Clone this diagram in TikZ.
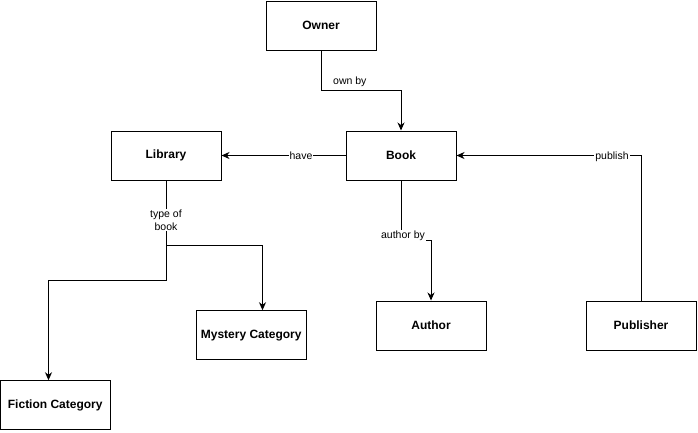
\documentclass[tikz,border=0pt]{standalone}
\usepackage{fontspec}
\setmainfont{Liberation Sans}
\usetikzlibrary{arrows.meta,calc}
\begin{document}
\begin{tikzpicture}[x=1pt,y=-1pt,
  entity/.style={draw,line width=1pt,minimum width=110pt,minimum height=49pt,inner sep=0pt,font=\fontsize{12}{14}\selectfont\bfseries},
  conn/.style={line width=1pt,-{Stealth[length=8pt,width=7pt,inset=2.5pt]}},
  plain/.style={line width=1pt},
  lbl/.style={fill=white,inner sep=1pt,font=\fontsize{10.5}{12.5}\selectfont}]
\useasboundingbox (0,0) rectangle (698,432);
\node[entity] (owner) at (321,25.5) {Owner};
\node[entity] (book) at (401,155.5) {Book};
\node[entity] (library) at (166,155.5) {Library};
\node[entity] (author) at (431,325.5) {Author};
\node[entity] (publisher) at (641,325.5) {Publisher};
\node[entity] (mystery) at (251.25,335.25) {Mystery Category};
\node[entity] (fiction) at (55.25,405.25) {Fiction Category};
% own by
\coordinate (o1) at (321,90);
\coordinate (o2) at (401,90);
\draw[conn] (owner.south) -- (o1) -- (o2) -- (book.north);
\node[lbl,anchor=west] (lown) at (332,82) {own by};
% have
\draw[conn] (book.west) -- (library.east);
\node[lbl] (lhave) at (301,156) {have};
% author by
\coordinate (a1) at (401,240);
\coordinate (a2) at (431,240);
\draw[conn] (book.south) -- (a1) -- (a2) -- (author.north);
\node[lbl] (lauth) at (403,236) {author by};
% publish
\coordinate (p1) at (641,155.5);
\draw[conn] (publisher.north) -- (p1) -- (book.east);
\node[lbl] (lpub) at (612,157) {publish};
% type of book
\coordinate (t1) at (166,245);
\coordinate (t2) at (166,280);
\coordinate (t3) at (48.5,280);
\coordinate (t4) at (262.5,245);
\draw[conn] (library.south) -- (t2) -- (t3) -- (t3 |- fiction.north);
\draw[conn] (t1) -- (t4) -- (t4 |- mystery.north);
\node[lbl,align=center] (ltype) at (166,220) {type of\\book};
\end{tikzpicture}
\end{document}
